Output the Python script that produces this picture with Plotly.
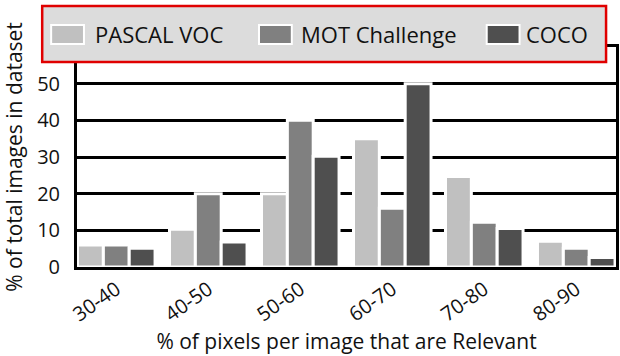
import plotly.graph_objects as go

categories = ["30-40", "40-50", "50-60", "60-70", "70-80", "80-90"]
series_names = ["PASCAL VOC", "MOT Challenge", "COCO"]
pascal_voc = [6.0, 10.3, 20.0, 35.0, 24.7, 7.0]
mot_challenge = [6.0, 20.0, 40.0, 16.0, 12.2, 5.1]
coco = [5.1, 6.8, 30.2, 50.0, 10.5, 2.6]
series_values = [pascal_voc, mot_challenge, coco]
series_colors = ["#c0c0c0", "#808080", "#4f4f4f"]
y_tick_values = [0, 10, 20, 30, 40, 50]
y_tick_labels = ["0", "10", "20", "30", "40", "50"]

W, H = 620, 356
L, R, T, B = 77, 619, 47, 267
FONT = "Open Sans"


def px(X):
    return (X - L) / (R - L)


def py(Y):
    return (B - Y) / (B - T)


fig = go.Figure()
for name, vals, col in zip(series_names, series_values, series_colors):
    fig.add_trace(go.Bar(
        x=categories, y=vals, name=name,
        marker=dict(color=col, line=dict(color="white", width=3)),
        showlegend=False,
    ))

shapes = [
    dict(type="rect", xref="paper", yref="paper",
         x0=px(42), x1=px(609), y0=py(62), y1=py(6),
         fillcolor="#dcdcdc", line=dict(color="#e00000", width=2.5), layer="above"),
]
annotations = []
sw_x = [51, 260, 489]
tx_x = [95, 302, 528]
for i, name in enumerate(series_names):
    shapes.append(dict(type="rect", xref="paper", yref="paper",
                       x0=px(sw_x[i]), x1=px(sw_x[i] + 33), y0=py(44), y1=py(25),
                       fillcolor=series_colors[i], line=dict(color="white", width=2),
                       layer="above"))
    annotations.append(dict(xref="paper", yref="paper", x=px(tx_x[i] - 2), y=py(34.5),
                            xanchor="left", yanchor="middle", showarrow=False,
                            text=name, font=dict(family=FONT, size=22, color="#111")))

fig.update_layout(
    width=W, height=H,
    margin=dict(l=L, r=W - R, t=T, b=H - B),
    paper_bgcolor="white", plot_bgcolor="white",
    barmode="group", bargap=0.157, bargroupgap=0,
    font=dict(family=FONT, color="#111"),
    shapes=shapes, annotations=annotations,
    xaxis=dict(
        type="category", range=[-0.427, 5.432],
        tickangle=-35, tickfont=dict(size=20),
        showline=True, linecolor="black", linewidth=3, mirror=True,
        layer="above traces", showgrid=False, ticks="",
        title=dict(text="% of pixels per image that are Relevant",
                   font=dict(size=21), standoff=6),
    ),
    yaxis=dict(
        range=[0, 60], tickvals=y_tick_values, ticktext=y_tick_labels,
        tickfont=dict(size=20), ticks="", ticklabelstandoff=10,
        showgrid=True, gridcolor="black", gridwidth=3,
        zeroline=False,
        showline=True, linecolor="black", linewidth=3, mirror=True,
        layer="below traces",
        title=dict(text="% of total images in dataset", font=dict(size=21), standoff=10),
    ),
)

fig.write_html(
    "out.html",
    config={"displayModeBar": False},
    post_script="document.body.style.margin='0';document.body.style.padding='0';",
)
